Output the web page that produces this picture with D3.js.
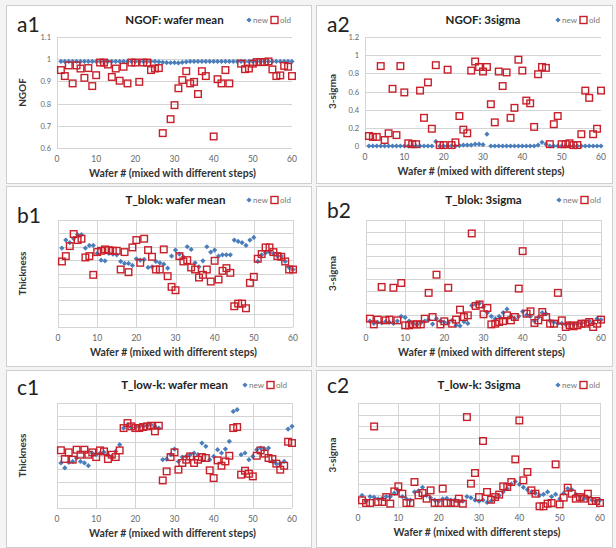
<!DOCTYPE html>
<html>
<head>
<meta charset="utf-8">
<script src="https://cdn.jsdelivr.net/npm/d3@7"></script>
<style>
  body { margin: 0; background: #fff; }
  svg text { font-family: Lato, "Open Sans", "Liberation Sans", sans-serif; }
</style>
</head>
<body>
<div id="vis"></div>
<script>
const W = 616, H = 548;
const wafers = d3.range(1, 61);
const xTicks = [0, 10, 20, 30, 40, 50, 60];
const seriesNames = ["new", "old"];

// a1: NGOF wafer mean
const a1Ticks = [0.6, 0.7, 0.8, 0.9, 1, 1.1];
const a1New = [0.99,0.99,0.99,0.99,0.99,0.99,0.99,0.99,0.99,0.99,
  0.99,0.99,0.99,0.99,0.99,0.99,0.99,0.99,0.99,0.99,
  0.99,0.99,0.99,0.99,0.99,0.988,0.986,0.985,0.984,0.985,
  0.983,0.986,0.988,0.99,0.99,0.99,0.99,0.99,0.99,0.99,
  0.99,0.99,0.99,0.99,0.99,0.99,0.99,0.99,0.99,0.99,
  0.99,0.99,0.99,0.99,0.99,0.99,0.99,0.99,0.99,0.99];
const a1Old = [0.951,0.924,0.972,0.891,0.972,0.958,0.916,0.960,0.879,0.928,
  0.985,0.985,0.976,0.920,0.958,0.903,0.966,0.891,0.985,0.985,
  0.898,0.985,0.985,0.951,0.958,0.960,0.667,null,0.730,0.793,
  0.869,0.906,0.946,0.891,0.898,0.843,0.946,0.924,null,0.652,
  0.910,0.891,0.951,0.891,null,null,0.980,0.955,0.958,0.980,
  0.987,0.987,0.987,0.990,0.954,0.924,0.927,0.970,0.966,0.924];

// a2: NGOF 3sigma
const a2Ticks = [0, 0.2, 0.4, 0.6, 0.8, 1, 1.2];
const a2New = [0,0,0,0,0,0,0,0,0,0,
  0,0,0,0,0,0,0,0.05,0,0,
  0,0,0,0.005,0.01,0.01,0.01,0.02,0.02,0.015,
  0.13,0,0,0,0,0,0,0,0,0,
  0,0,0,0.01,0.04,0.02,0,0,0,0,
  0,0,0,0,0,0,0,0,0,0];
const a2Old = [0.11,0.10,0.10,0.88,0.066,0.14,0.63,0.12,0.88,0.59,
  0.03,0.02,0.02,0.61,0.31,0.70,0.19,0.89,0.01,0.01,
  0.84,0.01,0.04,0.33,0.18,0.14,0.83,0.93,0.87,0.82,
  0.87,0.46,0.26,0.82,0.66,0.81,0.31,0.42,0.95,0.83,
  0.50,0.47,0.21,0.79,0.87,0.86,0.02,0.24,0.33,0.02,
  0.02,0.03,0.01,0.01,0.13,0.61,0.53,0.13,0.19,0.61];

// b1: T_blok wafer mean (no y labels, values in grid units)
const b1New = [5.9,6.5,6.3,6.6,6.9,6.9,5.9,6.1,6.1,5.5,
  5.0,4.95,5.5,5.45,5.4,4.9,4.75,4.75,4.6,5.1,
  5.0,5.05,4.45,4.5,4.9,4.8,4.7,4.4,5.3,5.75,
  5.45,5.25,6.0,5.8,4.8,4.5,4.95,6.0,5.6,5.75,
  5.3,5.4,5.4,5.4,6.5,6.4,6.3,6.1,6.5,6.7,
  4.9,5.4,5.55,5.6,5.5,5.3,5.3,4.9,4.45,4.3];
const b1Old = [4.9,5.3,6.05,6.95,6.5,6.6,5.2,5.3,3.9,5.6,
  5.7,5.8,5.75,5.7,5.7,4.3,5.6,4.1,5.95,6.5,
  4.8,6.6,5.75,5.25,4.3,4.3,5.8,3.8,3.0,2.75,
  5.3,4.9,5.0,4.45,4.3,3.7,3.9,4.3,3.4,4.95,
  3.55,4.2,4.4,4.05,1.55,1.75,1.75,1.4,3.3,3.75,
  5.1,5.45,5.95,5.95,5.6,5.3,5.25,4.9,4.3,4.3];

// b2: T_blok 3sigma
const b2New = [0.5,0.3,0.4,0.35,0.45,0.4,0.3,0.5,0.9,0.8,
  0.5,0.3,0.2,0.35,0.5,0.6,0.25,0.7,0.5,0.4,
  0.35,0.55,0.15,0.1,0.45,0.3,1.8,1.9,2.0,1.7,
  1.2,0.9,0.7,0.9,1.2,1.5,0.9,0.7,0.9,1.3,
  1.0,0.9,0.5,0.8,1.2,1.1,0.5,0.4,0.3,0.3,
  0.2,0.3,0.2,0.25,0.3,0.4,0.5,0.35,0.7,0.6];
const b2Old = [0.7,0.22,0.62,3.37,0.56,0.62,3.3,0.56,3.7,0.14,
  0.14,0.22,0.22,0.22,0.7,2.87,0.84,4.4,0.22,0.48,
  3.3,0.28,0.62,1.46,0.84,0.98,7.87,1.77,1.9,1.07,
  1.6,0.22,0.28,0.42,0.5,0.98,0.56,0.84,3.23,6.38,
  1.12,1.32,0.34,0.56,1.26,0.84,0.28,0.28,2.87,0.56,
  0,0.14,0.06,0.14,0.28,0.28,0.42,0,0.28,0.62];

// c1: T_low-k wafer mean
const c1New = [3.43,3.05,3.48,3.55,3.81,3.55,3.43,3.22,4.19,4.06,
  4.19,4.24,4.06,3.93,4.31,4.82,6.09,6.35,6.14,6.14,
  6.22,6.22,6.27,6.35,6.22,6.09,3.68,3.73,4.06,4.49,
  3.55,3.88,3.93,4.06,4.19,4.06,4.95,4.7,3.68,3.93,
  4.44,4.19,4.49,5.08,7.36,7.49,4.06,4.19,3.68,3.93,
  4.44,4.57,4.49,4.57,3.55,3.38,3.38,3.55,6.01,6.22];
const c1Old = [4.4,3.73,4.24,3.68,4.44,4.06,4.44,4.06,4.24,3.88,
  4.39,4.31,3.73,4.06,3.88,4.39,6.09,6.47,6.22,6.09,
  6.09,6.17,6.22,6.27,5.84,6.27,2.1,2.79,3.88,4.24,
  2.92,3.43,3.68,3.93,3.43,3.68,3.88,3.81,2.87,2.28,
  3.63,3.22,3.55,3.98,6.09,6.17,2.54,2.84,2.61,2.41,
  3.98,4.39,4.14,3.81,3.73,3.38,2.92,3.22,5.05,4.95];

// c2: T_low-k 3sigma
const c2New = [1.0,0.5,0.9,0.85,0.7,0.75,0.9,0.9,1.2,1.4,
  0.9,0.7,0.6,1.3,1.4,1.7,1.0,0.8,0.6,0.5,
  0.7,0.75,0.6,0.6,0.5,0.5,0.9,0.8,0.6,0.5,
  0.6,0.4,0.5,0.8,1.0,1.3,1.6,2.0,2.2,1.95,
  1.7,1.5,1.3,1.2,1.0,1.1,1.3,0.9,1.1,0.7,
  1.2,1.6,1.5,1.1,0.9,0.7,0.8,0.6,0.5,0.6];
const c2Old = [0.58,0.35,0.35,6.97,0.43,0.43,0.86,0.29,1.35,1.79,
  1.15,0.35,0.35,2.16,1.01,1.21,0.72,1.44,0.35,0.35,
  1.59,0.35,0.35,0.35,0.72,0.29,7.78,2.02,2.94,0.86,
  5.71,1.3,0.63,0.86,1.07,1.79,1.73,2.16,4.12,7.49,
  2.31,3.03,1.44,1.15,0.06,0.06,0.29,0.35,3.69,0.23,
  0.81,1.67,1.15,0.72,0.86,0.72,1.15,0.52,0.52,0.35];

const colorNew = "#4a7ebb", colorOld = "#c8202a";

// panel layout: box = [x, y, w, h], plot = [x0, y0, x1, y1]
const panels = [
  {id: "a1", title: "NGOF: wafer mean", yTitle: "NGOF", newVals: a1New, oldVals: a1Old,
   yDomain: [0.6, 1.1], yTicks: a1Ticks, labels: true, vGrid: false,
   box: [6, 5, 305, 178], plot: [57, 37, 292, 148], labelY: 32, titleY: 24, legX: 249},
  {id: "a2", title: "NGOF: 3sigma", yTitle: "3-sigma", newVals: a2New, oldVals: a2Old,
   yDomain: [0, 1.2], yTicks: a2Ticks, labels: true, vGrid: false,
   box: [316, 5, 296, 178], plot: [365, 37, 601, 146], labelY: 32, titleY: 24, legX: 558},
  {id: "b1", title: "T_blok: wafer mean", yTitle: "Thickness", newVals: b1New, oldVals: b1Old,
   yDomain: [0, 8], yTicks: d3.range(0, 9), labels: false, vGrid: true,
   box: [6, 186, 305, 180], plot: [58, 220, 293, 327], labelY: 223, titleY: 204, legX: 249},
  {id: "b2", title: "T_blok: 3sigma", yTitle: "3-sigma", newVals: b2New, oldVals: b2Old,
   yDomain: [0, 9], yTicks: d3.range(0, 10), labels: false, vGrid: true,
   box: [316, 186, 296, 180], plot: [366, 220, 601, 327], labelY: 218, titleY: 204, legX: 559},
  {id: "c1", title: "T_low-k: wafer mean", yTitle: "Thickness", newVals: c1New, oldVals: c1Old,
   yDomain: [0, 8], yTicks: d3.range(0, 9), labels: false, vGrid: true,
   box: [6, 370, 305, 177], plot: [57, 403, 292, 508], labelY: 395, titleY: 389, legX: 245},
  {id: "c2", title: "T_low-k: 3sigma", yTitle: "3-sigma", newVals: c2New, oldVals: c2Old,
   yDomain: [0, 9], yTicks: d3.range(0, 10), labels: false, vGrid: true,
   box: [316, 370, 296, 177], plot: [358, 403, 600, 507], labelY: 393, titleY: 389, legX: 558}
];

const svg = d3.select("#vis").append("svg")
  .attr("width", W).attr("height", H);

svg.append("rect").attr("width", W).attr("height", H).attr("fill", "#f4f4f4");

// small diamond = square rotated 45deg
const dS = 3.7;

function drawPanel(p) {
  const [bx, by, bw, bh] = p.box;
  const [px0, py0, px1, py1] = p.plot;
  const g = svg.append("g").attr("class", "panel");

  g.append("rect")
    .attr("x", bx + 0.5).attr("y", by + 0.5)
    .attr("width", bw).attr("height", bh)
    .attr("fill", "#fff").attr("stroke", "#cfcfcf");

  const x = d3.scaleLinear().domain([0, 60]).range([px0, px1]);
  const y = d3.scaleLinear().domain(p.yDomain).range([py1, py0]);

  // horizontal grid
  g.append("g").selectAll("line").data(p.yTicks).join("line")
    .attr("x1", px0).attr("x2", px1)
    .attr("y1", d => Math.round(y(d)) + 0.5).attr("y2", d => Math.round(y(d)) + 0.5)
    .attr("stroke", "#d4d4d4");

  if (p.vGrid) {
    g.append("g").selectAll("line").data(xTicks).join("line")
      .attr("x1", d => Math.round(x(d)) + 0.5).attr("x2", d => Math.round(x(d)) + 0.5)
      .attr("y1", py0).attr("y2", py1)
      .attr("stroke", "#d4d4d4");
  } else {
    g.append("line")
      .attr("x1", px0 + 0.5).attr("x2", px0 + 0.5)
      .attr("y1", py0).attr("y2", py1).attr("stroke", "#d4d4d4");
  }

  // y tick labels
  if (p.labels) {
    g.append("g").selectAll("text").data(p.yTicks).join("text")
      .attr("x", px0 - 6).attr("y", d => y(d) + 3)
      .attr("text-anchor", "end")
      .attr("font-size", 7.5).attr("fill", "#666")
      .text(d => d);
  }

  // x tick labels
  g.append("g").selectAll("text").data(xTicks).join("text")
    .attr("x", d => x(d)).attr("y", py1 + 14)
    .attr("text-anchor", "middle")
    .attr("font-size", 8.5).attr("fill", "#666")
    .text(d => d);

  // axis titles
  g.append("text")
    .attr("x", (px0 + px1) / 2 - 2).attr("y", py1 + 29)
    .attr("text-anchor", "middle")
    .attr("font-size", 10.5).attr("font-weight", "bold").attr("fill", "#333")
    .text("Wafer # (mixed with different steps)");

  const ytx = bx + 20, yty = (py0 + py1) / 2;
  g.append("text")
    .attr("transform", `translate(${ytx},${yty}) rotate(-90)`)
    .attr("text-anchor", "middle")
    .attr("font-size", 10).attr("font-weight", "bold").attr("fill", "#333")
    .text(p.yTitle);

  // title
  g.append("text")
    .attr("x", (px0 + px1) / 2).attr("y", p.titleY)
    .attr("text-anchor", "middle")
    .attr("font-size", 11.5).attr("font-weight", "bold").attr("fill", "#222")
    .text(p.title);

  // panel label
  g.append("text")
    .attr("x", bx + 11).attr("y", p.labelY)
    .attr("font-size", 21).attr("fill", "#222")
    .text(p.id);

  // legend
  const leg = g.append("g").attr("transform", `translate(${p.legX},${p.titleY - 4})`);
  leg.append("rect").attr("x", -dS / 2).attr("y", -dS / 2).attr("width", dS).attr("height", dS)
    .attr("transform", "rotate(45)").attr("fill", colorNew);
  leg.append("text").attr("x", 4).attr("y", 3).attr("font-size", 8).attr("fill", "#777").text(seriesNames[0]);
  leg.append("rect").attr("x", 22).attr("y", -3.5).attr("width", 7).attr("height", 7)
    .attr("fill", "none").attr("stroke", colorOld).attr("stroke-width", 1.4);
  leg.append("text").attr("x", 31).attr("y", 3).attr("font-size", 8).attr("fill", "#777").text(seriesNames[1]);

  // points
  const oldPts = wafers.map((w, i) => ({w, v: p.oldVals[i]})).filter(d => d.v != null);
  const newPts = wafers.map((w, i) => ({w, v: p.newVals[i]})).filter(d => d.v != null);

  g.append("g").selectAll("rect").data(newPts).join("rect")
    .attr("x", -dS / 2).attr("y", -dS / 2).attr("width", dS).attr("height", dS)
    .attr("transform", d => `translate(${x(d.w)},${y(d.v)}) rotate(45)`)
    .attr("fill", colorNew);

  g.append("g").selectAll("rect").data(oldPts).join("rect")
    .attr("x", d => x(d.w) - 3.3).attr("y", d => y(d.v) - 3.3)
    .attr("width", 6.6).attr("height", 6.6)
    .attr("fill", "none").attr("stroke", colorOld).attr("stroke-width", 1.4);
}

panels.forEach(drawPanel);
</script>
</body>
</html>
